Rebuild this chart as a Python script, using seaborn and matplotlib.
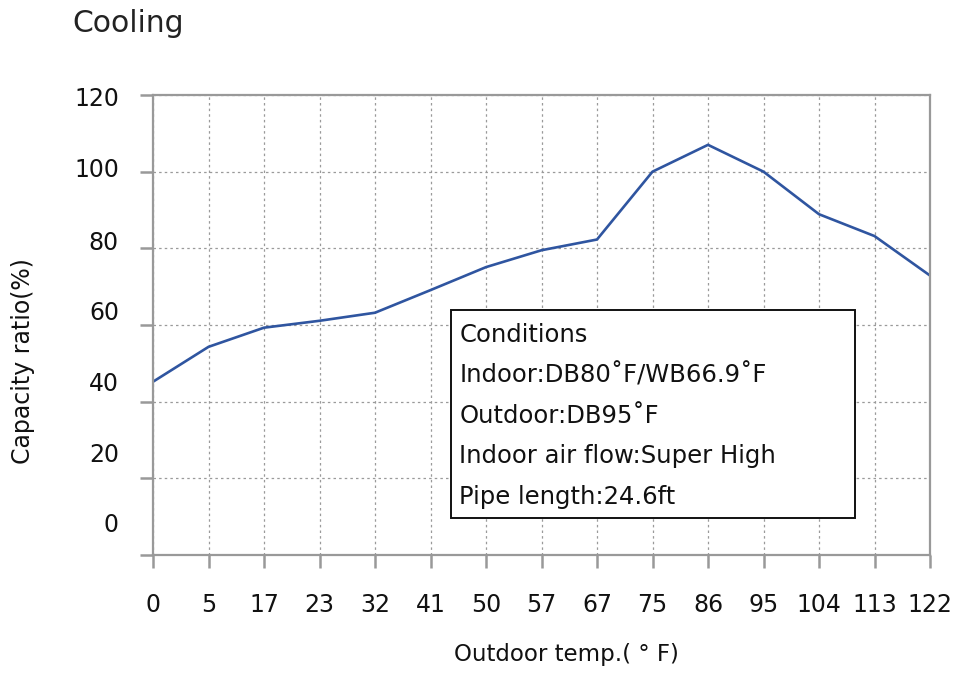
import matplotlib
matplotlib.use("Agg")
import matplotlib.pyplot as plt
import matplotlib.transforms as mtransforms
from matplotlib.patches import Rectangle
import numpy as np
import pandas as pd
import seaborn as sns

# chart data
temp_labels = ["0", "5", "17", "23", "32", "41", "50", "57", "67", "75",
               "86", "95", "104", "113", "122"]
capacity = [45.2, 54.3, 59.3, 61.1, 63.2, 69.1, 75.1, 79.5, 82.3, 100.0,
            107.0, 100.0, 88.9, 83.2, 72.9]
y_ticks = [0, 20, 40, 60, 80, 100, 120]
conditions = ["Conditions",
              "Indoor:DB80˚F/WB66.9˚F",
              "Outdoor:DB95˚F",
              "Indoor air flow:Super High",
              "Pipe length:24.6ft"]

sns.set_style("white")
plt.rcParams["font.family"] = ["DejaVu Sans"]

df = pd.DataFrame({"pos": np.arange(len(temp_labels)), "capacity": capacity})

fig = plt.figure(figsize=(9.61, 6.73), dpi=100)
ax = fig.add_axes([153 / 961, 1 - 555 / 673, 777 / 961, 460 / 673])

sns.lineplot(data=df, x="pos", y="capacity", color="#2f55a0", linewidth=1.9, ax=ax)

ax.set_xlim(0, len(temp_labels) - 1)
ax.set_ylim(0, 120)
ax.set_xticks(df["pos"])
ax.set_xticklabels(temp_labels, fontsize=17)
ax.set_yticks(y_ticks)
ax.set_yticklabels([str(v) for v in y_ticks], fontsize=17)

ax.grid(True, color="#9a9a9a", linestyle=(0, (2, 2.5)), linewidth=0.9)
for s in ax.spines.values():
    s.set_color("#999999")
    s.set_linewidth(1.6)
ax.tick_params(axis="both", bottom=True, left=True, colors="#999999",
               length=9.5, width=1.8, labelcolor="#111111", direction="out")
ax.tick_params(axis="y", pad=15)
ax.tick_params(axis="x", pad=18)

# tick labels on the y axis sit on their own spacing in the original
for i, lab in enumerate(ax.get_yticklabels()):
    shift = [32, 26, 20, 15, 8, 4, -2][i]
    lab.set_transform(lab.get_transform() +
                      mtransforms.ScaledTranslation(0, shift / 100, fig.dpi_scale_trans))

ax.set_xlabel("")
ax.set_ylabel("")
fig.text(566 / 961, 1 - 654 / 673, "Outdoor temp.( ° F)", fontsize=16.5,
         ha="center", va="center", color="#111111")
fig.text(23 / 961, 1 - 361 / 673, "Capacity ratio(%)", fontsize=17,
         rotation=90, ha="center", va="center", color="#111111")
fig.text(72 / 961, 1 - 24 / 673, "Cooling", fontsize=21.5, ha="left",
         va="center", color="#222222")

# conditions box
ax.add_patch(Rectangle((0.3835, 0.0804), 0.52, 0.4522, transform=ax.transAxes,
                       facecolor="white", edgecolor="#111111", linewidth=1.4,
                       zorder=5))
for k, line in enumerate(conditions):
    ax.text(0.394, 0.478 - k * 0.0878, line, transform=ax.transAxes,
            fontsize=17.5, ha="left", va="center", color="#111111", zorder=6)

fig.savefig("out.png", dpi=100)
